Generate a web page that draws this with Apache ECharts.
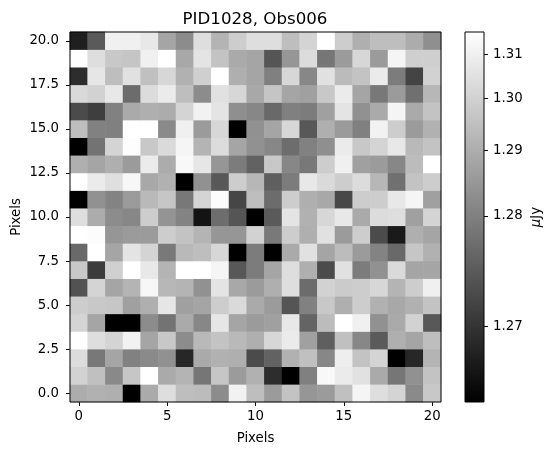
<!DOCTYPE html>
<html>
<head>
<meta charset="utf-8">
<style>html,body{margin:0;padding:0;background:#fff}#c{width:556px;height:455px}</style>
<script src="https://cdn.jsdelivr.net/npm/echarts@6/dist/echarts.min.js"></script>
</head>
<body>
<div id="c"></div>
<script>
// Pixel values in uJy, row index 0 (bottom) to 20 (top)
var row00=[1.2896,1.2911,1.2904,1.2680,1.2891,1.3040,1.2944,1.2938,1.2823,1.3108,1.2944,1.2855,1.2958,1.2844,1.2855,1.2949,1.3118,1.3040,1.3008,1.2819,1.2972];
var row01=[1.3002,1.2949,1.2817,1.2966,1.3155,1.2891,1.2917,1.2782,1.2966,1.2855,1.2911,1.2695,1.2680,1.2800,1.3130,1.3083,1.3050,1.2891,1.2782,1.2834,1.2958];
var row02=[1.3034,1.2785,1.2879,1.2803,1.2819,1.2834,1.2691,1.2891,1.2911,1.2904,1.2721,1.2750,1.2911,1.2949,1.2813,1.3093,1.2958,1.3008,1.2680,1.2691,1.2917];
var row03=[1.3155,1.3040,1.3008,1.3108,1.2879,1.2972,1.2823,1.2930,1.2958,1.2930,1.2904,1.3018,1.3083,1.2867,1.2746,1.2949,1.2813,1.2739,1.2904,1.2879,1.2944];
var row04=[1.3008,1.2879,1.2680,1.2680,1.2823,1.2777,1.2891,1.2813,1.3066,1.2879,1.2855,1.2867,1.3073,1.2753,1.2938,1.3155,1.3101,1.2834,1.2891,1.3002,1.2737];
var row05=[1.2987,1.2972,1.2966,1.2867,1.2904,1.3066,1.2867,1.2879,1.2987,1.3027,1.2891,1.2855,1.2733,1.2803,1.2972,1.2904,1.2987,1.2911,1.2886,1.2911,1.2958];
var row06=[1.2729,1.3008,1.2879,1.2917,1.3126,1.2925,1.2917,1.2834,1.3059,1.2886,1.2855,1.2904,1.3040,1.2765,1.3002,1.2981,1.2987,1.3018,1.2917,1.2987,1.3101];
var row07=[1.2972,1.2706,1.2996,1.3155,1.3073,1.2917,1.3155,1.3155,1.3118,1.2737,1.2794,1.2879,1.3040,1.2904,1.2721,1.3050,1.2794,1.2834,1.3027,1.2879,1.2879];
var row08=[1.2761,1.3155,1.2879,1.3059,1.3008,1.2788,1.2930,1.2944,1.3018,1.2680,1.2794,1.2680,1.2891,1.3050,1.2879,1.2938,1.2855,1.2807,1.2761,1.2966,1.2911];
var row09=[1.3155,1.3144,1.2844,1.2855,1.2855,1.2987,1.2958,1.2917,1.2844,1.2844,1.3002,1.2788,1.2987,1.2904,1.3050,1.2855,1.2987,1.2721,1.2685,1.2904,1.2879];
var row10=[1.3040,1.2896,1.2823,1.2813,1.2987,1.2840,1.2807,1.2683,1.2768,1.2733,1.2680,1.2739,1.3059,1.2911,1.3018,1.3073,1.2891,1.3034,1.3040,1.2867,1.3008];
var row11=[1.2680,1.2834,1.2807,1.2855,1.2930,1.2966,1.2785,1.3008,1.3144,1.2716,1.2944,1.2765,1.2987,1.2904,1.2886,1.2718,1.2987,1.2987,1.3073,1.3118,1.2867];
var row12=[1.3155,1.3083,1.3043,1.3126,1.2886,1.2911,1.2680,1.2834,1.2737,1.2987,1.2925,1.2746,1.2794,1.3073,1.3027,1.2987,1.3034,1.2925,1.2772,1.2958,1.2987];
var row13=[1.2904,1.2879,1.2904,1.2855,1.3083,1.2896,1.3130,1.3066,1.2844,1.2794,1.2750,1.2972,1.2813,1.2785,1.2987,1.3101,1.2867,1.2855,1.2813,1.2938,1.3155];
var row14=[1.2680,1.2777,1.3008,1.3148,1.2972,1.3027,1.3118,1.2917,1.3034,1.2879,1.2834,1.2813,1.2768,1.2803,1.2828,1.3083,1.2972,1.3008,1.3073,1.2930,1.2958];
var row15=[1.2944,1.2803,1.2800,1.3155,1.3155,1.2819,1.3101,1.2855,1.3018,1.2680,1.2834,1.2879,1.3018,1.2737,1.2904,1.2855,1.2800,1.3108,1.2987,1.2855,1.2911];
var row16=[1.2721,1.2708,1.2803,1.2891,1.2904,1.2896,1.3008,1.3108,1.3059,1.2828,1.2813,1.2761,1.2800,1.2794,1.2867,1.3059,1.2834,1.2891,1.3118,1.2891,1.2958];
var row17=[1.3024,1.3002,1.3073,1.2765,1.3034,1.3083,1.2944,1.2823,1.3050,1.3018,1.2886,1.2963,1.2879,1.2867,1.2972,1.3083,1.2879,1.2785,1.2855,1.2772,1.2925];
var row18=[1.2695,1.3066,1.2944,1.3050,1.2949,1.3018,1.2911,1.2993,1.3155,1.2904,1.2879,1.2800,1.3018,1.2813,1.3050,1.2936,1.2958,1.3083,1.2794,1.2714,1.3002];
var row19=[1.3155,1.3040,1.2972,1.2963,1.3101,1.3155,1.2886,1.3059,1.2958,1.2891,1.2879,1.2733,1.2844,1.3034,1.2782,1.2855,1.3018,1.2855,1.3118,1.2993,1.2993];
var row20=[1.2687,1.2739,1.3101,1.3101,1.3073,1.2879,1.2823,1.3040,1.2917,1.2987,1.3040,1.3040,1.2944,1.3008,1.3155,1.2987,1.2904,1.2944,1.2944,1.2896,1.2828];
var rows=[row00,row01,row02,row03,row04,row05,row06,row07,row08,row09,row10,row11,row12,row13,row14,row15,row16,row17,row18,row19,row20];

var pixelIndex=[0,1,2,3,4,5,6,7,8,9,10,11,12,13,14,15,16,17,18,19,20];
var xTicks=[0,5,10,15,20];
var yTicks=[0,2.5,5,7.5,10,12.5,15,17.5,20];
var barTicks=[1.27,1.28,1.29,1.30,1.31];
var vMin=1.268, vMax=1.3155;
var font='DejaVu Sans';

// sqrt stretch: maps value to position on the grey ramp
function stretch(v){return Math.sqrt((v-vMin)/(vMax-vMin));}
function unstretch(t){return vMin+t*t*(vMax-vMin);}

var cells=[];
rows.forEach(function(r,y){r.forEach(function(v,x){cells.push([x,y,v]);});});
var ramp=[];
for(var i=0;i<=128;i++){var g=Math.round(255*Math.sqrt(i/128));ramp.push('rgb('+g+','+g+','+g+')');}

var chart=echarts.init(document.getElementById('c'),null,{renderer:'canvas'});
var tickStyle={show:true,inside:false,length:4,lineStyle:{color:'#000',width:1}};
var labelStyle={show:true,color:'#000',fontFamily:font,fontSize:13.3,margin:10};
chart.setOption({
  animation:false,
  backgroundColor:'#fff',
  title:{text:'PID1028, Obs006',left:250,top:6,textAlign:'center',
    textStyle:{color:'#000',fontFamily:font,fontSize:16.67,fontWeight:'normal'}},
  grid:[
    {left:70,top:32,width:371,height:370,show:true,backgroundColor:'transparent',borderColor:'#000',borderWidth:1,z:5,containLabel:false},
    {left:465,top:32,width:19,height:370,show:true,backgroundColor:'transparent',borderColor:'#000',borderWidth:1,z:5,containLabel:false}
  ],
  visualMap:{show:false,type:'continuous',seriesIndex:0,dimension:2,min:vMin,max:vMax,inRange:{color:ramp}},
  xAxis:[
    {type:'category',gridIndex:0,data:pixelIndex,show:false},
    {type:'value',gridIndex:0,position:'bottom',min:-0.5,max:20.5,splitLine:{show:false},
      axisLine:{show:false,onZero:false},
      axisTick:Object.assign({customValues:xTicks},tickStyle),
      axisLabel:Object.assign({customValues:xTicks,formatter:function(v){return String(v);}},labelStyle,{margin:8}),
      name:'Pixels',nameLocation:'middle',nameGap:30,nameMoveOverlap:false,nameTextStyle:{color:'#000',fontFamily:font,fontSize:13.3}},
    {type:'category',gridIndex:1,data:['bar'],show:false}
  ],
  yAxis:[
    {type:'category',gridIndex:0,data:pixelIndex,show:false},
    {type:'value',gridIndex:0,position:'left',min:-0.5,max:20.5,splitLine:{show:false},
      axisLine:{show:false,onZero:false},
      axisTick:Object.assign({customValues:yTicks},tickStyle),
      axisLabel:Object.assign({customValues:yTicks,formatter:function(v){return v.toFixed(1);}},labelStyle,{margin:11}),
      name:'Pixels',nameLocation:'middle',nameGap:47,nameMoveOverlap:false,nameTextStyle:{color:'#000',fontFamily:font,fontSize:13.3}},
    {type:'value',gridIndex:1,position:'right',min:0,max:1,splitLine:{show:false},
      axisLine:{show:false,onZero:false},
      axisTick:Object.assign({customValues:barTicks.map(stretch)},tickStyle),
      axisLabel:Object.assign({customValues:barTicks.map(stretch),formatter:function(t){return unstretch(t).toFixed(2);}},labelStyle,{margin:9}),
      name:'{m|\u03bc}Jy',nameLocation:'middle',nameGap:46,nameRotate:90,nameMoveOverlap:false,
      nameTextStyle:{color:'#000',fontFamily:font,fontSize:13.3,rich:{m:{fontFamily:font,fontSize:13.3,fontStyle:'italic',color:'#000'}}}}
  ],
  series:[
    {type:'heatmap',xAxisIndex:0,yAxisIndex:0,data:cells,progressive:0,emphasis:{disabled:true},itemStyle:{borderWidth:0}},
    {type:'bar',xAxisIndex:2,yAxisIndex:2,data:[1],barWidth:'100%',silent:true,
      itemStyle:{color:new echarts.graphic.LinearGradient(0,1,0,0,[{offset:0,color:'#000'},{offset:1,color:'#fff'}])}}
  ]
});
</script>
</body>
</html>
